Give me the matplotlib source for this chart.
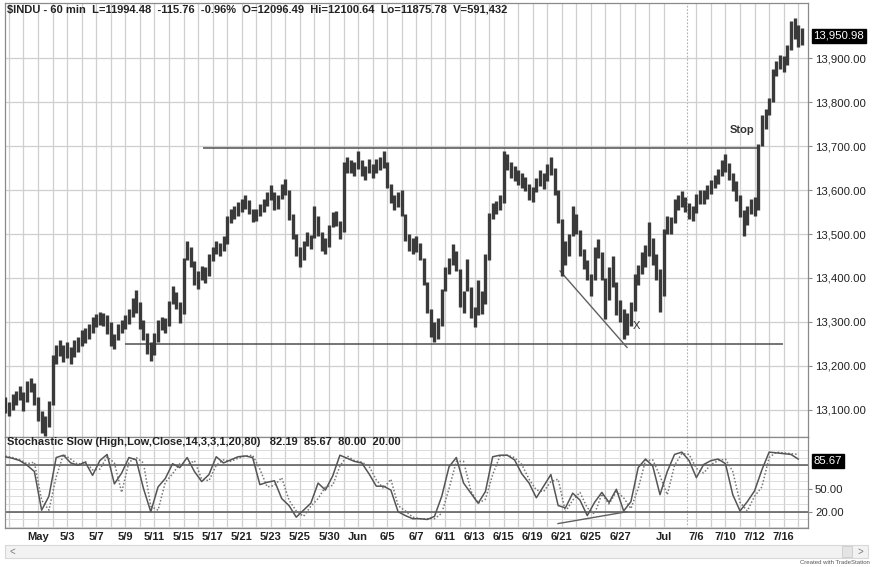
import matplotlib
matplotlib.use("Agg")
import matplotlib.pyplot as plt
from matplotlib.patches import Rectangle

plt.rcParams['font.family'] = ['Liberation Sans', 'DejaVu Sans']

# ---------------- data ----------------
bar_high = [13128, 13118, 13135, 13142, 13155, 13140, 13165, 13172, 13162, 13130,
            13098, 13085, 13120, 13225, 13248, 13258, 13248, 13255, 13242, 13258,
            13265, 13282, 13286, 13295, 13312, 13318, 13322, 13320, 13315, 13300,
            13272, 13295, 13305, 13316, 13330, 13355, 13372, 13345, 13305, 13275,
            13255, 13275, 13305, 13312, 13308, 13348, 13382, 13368, 13345, 13445,
            13484, 13470, 13438, 13415, 13428, 13425, 13455, 13470, 13485, 13480,
            13495, 13540, 13556, 13565, 13572, 13580, 13588, 13578, 13558, 13558,
            13568, 13580, 13596, 13612, 13595, 13590, 13615, 13625, 13600, 13545,
            13500, 13470, 13485, 13505, 13498, 13565, 13540, 13505, 13490, 13520,
            13550, 13552, 13530, 13665, 13675, 13668, 13665, 13690, 13668, 13655,
            13670, 13660, 13670, 13675, 13688, 13665, 13615, 13590, 13595, 13600,
            13545, 13500, 13490, 13495, 13480, 13445, 13390, 13330, 13300, 13310,
            13375, 13425, 13445, 13477, 13462, 13420, 13370, 13443, 13380, 13335,
            13395, 13370, 13455, 13548, 13570, 13575, 13590, 13688, 13682, 13665,
            13655, 13645, 13640, 13630, 13615, 13608, 13628, 13645, 13638, 13660,
            13675, 13650, 13600, 13535, 13485, 13500, 13565, 13545, 13510, 13465,
            13440, 13410, 13470, 13489, 13460, 13400, 13425, 13450, 13390, 13350,
            13330, 13320, 13345, 13410, 13430, 13460, 13475, 13528, 13490, 13455,
            13420, 13512, 13540, 13538, 13580, 13590, 13598, 13585, 13570, 13565,
            13592, 13600, 13600, 13612, 13622, 13635, 13648, 13668, 13683, 13662,
            13640, 13620, 13590, 13555, 13565, 13580, 13585, 13705, 13770, 13785,
            13810, 13875, 13895, 13908, 13905, 13930, 13985, 13992, 13975, 13968]
bar_low = [13092, 13085, 13100, 13110, 13122, 13098, 13118, 13140, 13110, 13075,
           13048, 13040, 13060, 13110, 13205, 13222, 13208, 13218, 13205, 13220,
           13232, 13245, 13252, 13262, 13275, 13288, 13294, 13290, 13272, 13245,
           13238, 13258, 13275, 13284, 13295, 13312, 13320, 13285, 13258, 13228,
           13212, 13225, 13255, 13282, 13275, 13290, 13340, 13330, 13298, 13318,
           13440, 13425, 13385, 13376, 13395, 13388, 13405, 13438, 13455, 13450,
           13462, 13478, 13525, 13535, 13542, 13550, 13558, 13545, 13528, 13530,
           13540, 13550, 13565, 13578, 13555, 13558, 13580, 13588, 13532, 13488,
           13450, 13424, 13440, 13472, 13465, 13490, 13495, 13462, 13455, 13470,
           13515, 13518, 13488, 13505, 13640, 13638, 13632, 13648, 13632, 13622,
           13638, 13628, 13640, 13645, 13650, 13605, 13570, 13555, 13562, 13540,
           13485, 13462, 13455, 13460, 13440, 13385, 13320, 13265, 13254, 13262,
           13290, 13370, 13410, 13430, 13415, 13335, 13320, 13370, 13310, 13288,
           13315, 13318, 13340, 13440, 13535, 13545, 13555, 13570, 13645, 13628,
           13620, 13612, 13605, 13598, 13578, 13572, 13595, 13610, 13602, 13620,
           13635, 13590, 13525, 13405, 13430, 13450, 13495, 13500, 13450, 13420,
           13395, 13360, 13395, 13445, 13395, 13306, 13350, 13380, 13315, 13300,
           13260, 13270, 13290, 13325, 13385, 13410, 13425, 13450, 13430, 13395,
           13322, 13360, 13500, 13500, 13525, 13555, 13562, 13550, 13535, 13530,
           13548, 13568, 13568, 13580, 13592, 13605, 13615, 13632, 13642, 13622,
           13598, 13575, 13538, 13496, 13520, 13545, 13540, 13555, 13700, 13740,
           13770, 13800, 13860, 13875, 13870, 13885, 13920, 13945, 13925, 13930]

stoch_k = [91, 89, 86, 80, 72, 22, 40, 90, 93, 83,
           80, 84, 67, 86, 94, 56, 70, 90, 87, 50,
           20, 52, 63, 82, 77, 90, 72, 59, 68, 91,
           83, 87, 91, 92, 90, 55, 58, 60, 37, 28,
           13, 22, 31, 57, 48, 66, 93, 89, 85, 83,
           69, 53, 53, 48, 20, 15, 11, 11, 10, 14,
           40, 78, 90, 57, 44, 31, 46, 91, 93, 93,
           87, 69, 57, 38, 53, 68, 28, 25, 44, 35,
           15, 32, 45, 32, 49, 21, 33, 77, 88, 79,
           42, 72, 94, 97, 86, 64, 81, 86, 88, 82,
           42, 21, 33, 47, 74, 97, 96, 95, 94, 88]
stoch_d = [92, 90, 87, 82, 84, 35, 22, 65, 94, 88,
           81, 85, 74, 75, 91, 83, 45, 84, 90, 83,
           27, 22, 58, 69, 82, 80, 86, 62, 60, 80,
           87, 85, 89, 92, 93, 75, 52, 54, 64, 35,
           21, 14, 27, 37, 52, 54, 79, 92, 86, 84,
           79, 61, 50, 62, 28, 21, 13, 11, 11, 11,
           18, 50, 85, 85, 47, 31, 36, 68, 92, 93,
           90, 81, 62, 48, 46, 59, 62, 20, 35, 45,
           25, 17, 43, 30, 46, 38, 24, 50, 86, 87,
           66, 42, 80, 95, 94, 76, 70, 81, 86, 88,
           72, 32, 21, 40, 52, 90, 97, 96, 95, 94]

date_labels = ["May", "5/3", "5/7", "5/9", "5/11", "5/15", "5/17", "5/21", "5/23",
               "5/25", "5/30", "Jun", "6/5", "6/7", "6/11", "6/13", "6/15", "6/19",
               "6/21", "6/25", "6/27", "Jul", "7/6", "7/10", "7/12", "7/16"]
price_ticks = [13100, 13200, 13300, 13400, 13500, 13600, 13700, 13800, 13900]
resistance_level = 13697
support_level = 13249
last_price = 13950.98
stoch_last = 85.67
header = ("$INDU - 60 min  L=11994.48  -115.76  -0.96%  O=12096.49  "
          "Hi=12100.64  Lo=11875.78  V=591,432")
stoch_title = "Stochastic Slow (High,Low,Close,14,3,3,1,20,80)   82.19  85.67  80.00  20.00"

# ---------------- layout ----------------
W, H = 872, 567
fig = plt.figure(figsize=(W / 100, H / 100), dpi=100)
fig.patch.set_facecolor("white")

L_px, R_px = 5, 808
ax = fig.add_axes([L_px / W, 1 - 437 / H, (R_px - L_px) / W, 434 / H])
ax2 = fig.add_axes([L_px / W, 1 - 528 / H, (R_px - L_px) / W, 91 / H])

# x in trading-day units, 14.55 px per day, May 1 at x=38 px
px_per_day = 14.55
x_left = (L_px - 38) / px_per_day
x_right = (R_px - 38) / px_per_day

bar_x = [-2.25 + 0.25 * i for i in range(len(bar_high))]
st_x = [-2.25 + 0.5 * j for j in range(len(stoch_k))]

tick_pos = [2 * k for k in range(21)] + [43, 45.25, 47.25, 49.25, 51.25]
grid_days = list(range(-2, 44)) + [45.25 + k for k in range(8)]

grid_c = "#cfcfcf"
for a in (ax, ax2):
    a.set_xlim(x_left, x_right)
    for g in grid_days:
        a.axvline(g, color=grid_c, lw=0.9, zorder=0)
    a.axvline(44.6, color="#b0b0b0", lw=0.8, ls=(0, (1.5, 1.5)), zorder=0)
    for s in a.spines.values():
        s.set_color("#8a8a8a")
        s.set_linewidth(0.9)

# ---- price panel ----
ax.set_ylim(13038, 14026)
for p in price_ticks:
    ax.axhline(p, color=grid_c, lw=0.9, zorder=0)
ax.vlines(bar_x, bar_low, bar_high, color="#3a3a3a", lw=2.4, zorder=3)

ax.hlines(resistance_level, 11.34, 49.4, color="#505050", lw=1.1, zorder=2)
ax.hlines(support_level, 5.98, 51.2, color="#505050", lw=1.1, zorder=2)
ax.plot([35.88, 40.48], [13416, 13242], color="#606060", lw=1.0, zorder=2)
ax.text(41.1, 13290, "X", fontsize=8, color="#333333", ha="center", va="center")
ax.text(48.4, 13738, "Stop", fontsize=8, fontweight="bold", color="#333333",
        ha="center", va="center")

ax.yaxis.tick_right()
ax.set_yticks(price_ticks)
ax.set_yticklabels([f"{p:,.2f}" for p in price_ticks])
ax.tick_params(axis="y", length=3, width=0.8, color="#8a8a8a", pad=2,
               labelsize=8.2, labelcolor="#222222")
ax.tick_params(axis="x", length=0, labelbottom=False)
ax.annotate(f"{last_price:,.2f}", xy=(1.0, last_price), xycoords=("axes fraction", "data"),
            xytext=(4, 0), textcoords="offset points", va="center", ha="left",
            fontsize=8.2, color="white",
            bbox=dict(boxstyle="square,pad=0.15", fc="black", ec="black"))
ax.text(0.0025, 0.997, header, transform=ax.transAxes, ha="left", va="top",
        fontsize=8.0, fontweight="bold", color="#222222")

# ---- stochastic panel ----
ax2.set_ylim(-1, 116.5)
for g in range(0, 101, 10):
    ax2.axhline(g, color="#dcdcdc", lw=0.7, zorder=0)
ax2.axhline(80, color="#555555", lw=1.1, zorder=2)
ax2.axhline(20, color="#555555", lw=1.1, zorder=2)
ax2.plot(st_x, stoch_d, color="#777777", lw=1.1, ls=(0, (1, 1.3)), zorder=3)
ax2.plot(st_x, stoch_k, color="#555555", lw=1.1, zorder=4)
ax2.plot([35.74, 40.46], [4.7, 20], color="#606060", lw=1.0, zorder=3)

ax2.yaxis.tick_right()
ax2.set_yticks([20, 50])
ax2.set_yticklabels(["20.00", "50.00"])
ax2.tick_params(axis="y", length=3, width=0.8, color="#8a8a8a", pad=2,
                labelsize=8.2, labelcolor="#222222")
ax2.annotate(f"{stoch_last:.2f}", xy=(1.0, stoch_last), xycoords=("axes fraction", "data"),
             xytext=(4, 0), textcoords="offset points", va="center", ha="left",
             fontsize=8.2, color="white",
             bbox=dict(boxstyle="square,pad=0.15", fc="black", ec="black"))
ax2.set_xticks(tick_pos)
ax2.set_xticklabels(date_labels)
ax2.tick_params(axis="x", length=0, pad=3, labelsize=8.0, labelcolor="#222222")
for t in ax2.get_xticklabels():
    t.set_fontweight("bold")
ax2.text(0.0025, 0.995, stoch_title, transform=ax2.transAxes, ha="left", va="top",
         fontsize=8.0, fontweight="bold", color="#222222")

# ---- scroll bar and credit ----
fig.patches.append(Rectangle((5 / W, 1 - 558 / H), 863 / W, 13 / H, transform=fig.transFigure,
                             fc="#f2f2f2", ec="#d8d8d8", lw=0.8))
fig.patches.append(Rectangle((842 / W, 1 - 557 / H), 10 / W, 11 / H, transform=fig.transFigure,
                             fc="#e4e4e4", ec="#cccccc", lw=0.6))
fig.text(12 / W, 1 - 551.5 / H, "<", fontsize=7, color="#777777", ha="center", va="center")
fig.text(860 / W, 1 - 551.5 / H, ">", fontsize=7, color="#777777", ha="center", va="center")
fig.text(870 / W, 1 - 563 / H, "Created with TradeStation", fontsize=4.3, color="#555555",
         ha="right", va="center")

fig.savefig("out.png", dpi=100, facecolor="white")
